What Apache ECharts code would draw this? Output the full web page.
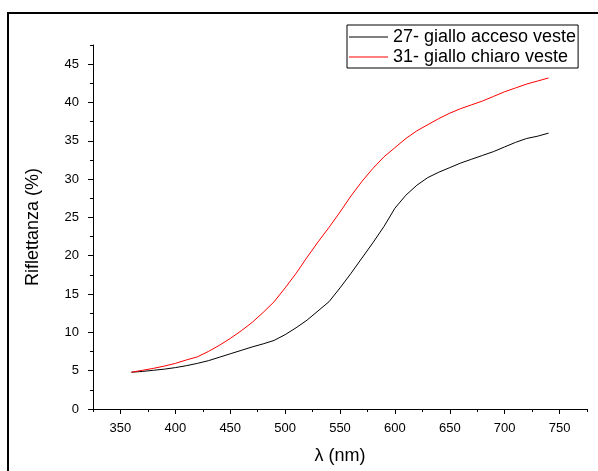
<!DOCTYPE html>
<html>
<head>
<meta charset="utf-8">
<script src="https://cdn.jsdelivr.net/npm/echarts@6/dist/echarts.min.js"></script>
<style>
  html, body { margin: 0; padding: 0; background: #fff; }
  #chart { width: 598px; height: 471px; }
</style>
</head>
<body>
<div id="chart"></div>
<script>
// Reflectance spectra of two yellow garment samples
const wavelengths = [360, 370, 380, 390, 400, 410, 420, 430, 440, 450, 460, 470, 480, 490, 500,
  510, 520, 530, 540, 550, 560, 570, 580, 590, 600, 610, 620, 630, 640, 650, 660, 670, 680, 690,
  700, 710, 720, 730, 740];

const seriesNames = ['27- giallo acceso veste', '31- giallo chiaro veste'];

const gialloAcceso = [4.8, 4.9, 5.05, 5.2, 5.4, 5.65, 5.95, 6.3, 6.75, 7.2, 7.65, 8.1, 8.5, 8.95, 9.7,
  10.6, 11.6, 12.8, 14.0, 15.8, 17.7, 19.7, 21.7, 23.8, 26.2, 27.9, 29.2, 30.2, 30.9, 31.5, 32.1, 32.6,
  33.1, 33.6, 34.2, 34.8, 35.3, 35.6, 36.0];

const gialloChiaro = [4.8, 5.05, 5.3, 5.6, 5.95, 6.4, 6.8, 7.5, 8.3, 9.2, 10.2, 11.3, 12.6, 14.0, 15.8,
  17.7, 19.8, 21.8, 23.7, 25.7, 27.8, 29.7, 31.4, 32.9, 34.1, 35.3, 36.3, 37.1, 37.9, 38.6, 39.2, 39.7,
  40.2, 40.8, 41.4, 41.9, 42.4, 42.8, 43.2];

// Axis ticks
const xMajorTicks = [350, 400, 450, 500, 550, 600, 650, 700, 750];
const xMinorTicks = [325, 375, 425, 475, 525, 575, 625, 675, 725, 775];
const yMajorTicks = [0, 5, 10, 15, 20, 25, 30, 35, 40, 45];
const yMinorTicks = [2.5, 7.5, 12.5, 17.5, 22.5, 27.5, 32.5, 37.5, 42.5, 47.5];

const FONT = 'Liberation Sans, Arial, sans-serif';
const toPairs = (vals) => wavelengths.map((w, i) => [w, vals[i]]);

const chart = echarts.init(document.getElementById('chart'), null, { renderer: 'canvas' });

const axisLine = { show: true, lineStyle: { color: '#000', width: 1 } };

chart.setOption({
  animation: false,
  backgroundColor: '#fff',
  grid: { left: 93, right: 11, top: 45, bottom: 62, containLabel: false },
  graphic: [{
    type: 'rect',
    shape: { x: 8, y: 13, width: 700, height: 600 },
    style: { fill: 'none', stroke: '#000', lineWidth: 2 },
    silent: true
  }],
  legend: {
    orient: 'vertical',
    left: 347,
    top: 25,
    padding: [3, 2, 2, 2],
    itemGap: 2,
    itemWidth: 39,
    itemHeight: 1,
    icon: 'rect',
    borderColor: '#000',
    borderWidth: 1,
    textStyle: { fontFamily: FONT, fontSize: 18, color: '#000', lineHeight: 18 },
    data: seriesNames
  },
  xAxis: [{
    type: 'value',
    min: 325,
    max: 775,
    name: 'λ (nm)',
    nameLocation: 'middle',
    nameGap: 38,
    nameTextStyle: { fontFamily: FONT, fontSize: 18, color: '#000' },
    axisLine: axisLine,
    axisTick: { show: true, inside: false, length: 5, lineStyle: { color: '#000' }, customValues: xMajorTicks },
    axisLabel: { show: true, margin: 13, fontFamily: FONT, fontSize: 13, color: '#000', customValues: xMajorTicks },
    splitLine: { show: false }
  }, {
    type: 'value',
    min: 325,
    max: 775,
    position: 'bottom',
    axisLine: { show: false },
    axisTick: { show: true, inside: false, length: 3, lineStyle: { color: '#000' }, customValues: xMinorTicks },
    axisLabel: { show: false },
    splitLine: { show: false }
  }],
  yAxis: [{
    type: 'value',
    min: 0,
    max: 47.5,
    name: 'Riflettanza (%)',
    nameLocation: 'middle',
    nameGap: 51,
    nameTextStyle: { fontFamily: FONT, fontSize: 18, color: '#000' },
    axisLine: axisLine,
    axisTick: { show: true, inside: false, length: 5, lineStyle: { color: '#000' }, customValues: yMajorTicks },
    axisLabel: { show: true, margin: 14, fontFamily: FONT, fontSize: 13, color: '#000', customValues: yMajorTicks },
    splitLine: { show: false }
  }, {
    type: 'value',
    min: 0,
    max: 47.5,
    position: 'left',
    axisLine: { show: false },
    axisTick: { show: true, inside: false, length: 3, lineStyle: { color: '#000' }, customValues: yMinorTicks },
    axisLabel: { show: false },
    splitLine: { show: false }
  }],
  series: [{
    name: seriesNames[0],
    type: 'line',
    data: toPairs(gialloAcceso),
    showSymbol: false,
    symbol: 'none',
    lineStyle: { color: '#000', width: 1 },
    itemStyle: { color: '#000' }
  }, {
    name: seriesNames[1],
    type: 'line',
    data: toPairs(gialloChiaro),
    showSymbol: false,
    symbol: 'none',
    lineStyle: { color: '#ff0000', width: 1 },
    itemStyle: { color: '#ff0000' }
  }]
});
</script>
</body>
</html>
